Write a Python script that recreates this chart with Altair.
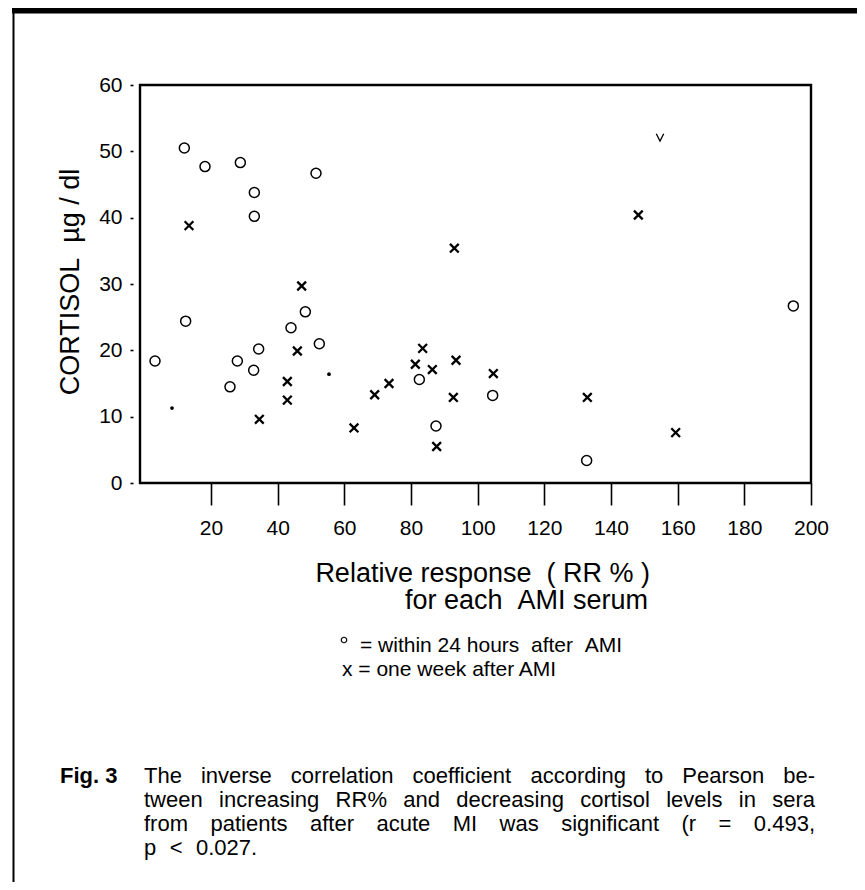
import altair as alt
import pandas as pd

# ---------------- data ----------------
circle_x = [3.2, 12.0, 12.4, 18.2, 28.8, 33.0, 33.0, 51.5, 25.7, 27.9,
            32.8, 34.3, 44.0, 48.3, 52.5, 82.5, 87.5, 104.5, 132.7, 194.7]
circle_y = [18.4, 50.5, 24.4, 47.7, 48.3, 43.8, 40.2, 46.7, 14.5, 18.4,
            17.0, 20.2, 23.4, 25.8, 21.0, 15.6, 8.6, 13.2, 3.4, 26.7]
cross_x = [13.4, 47.2, 45.9, 42.9, 42.9, 34.5, 62.9, 69.1, 73.4, 81.3,
           83.5, 86.4, 87.7, 93.0, 93.5, 92.7, 104.7, 132.9, 148.2, 159.4]
cross_y = [38.8, 29.7, 19.9, 15.3, 12.5, 9.6, 8.3, 13.3, 15.0, 17.9,
           20.3, 17.1, 5.5, 35.4, 18.5, 12.9, 16.5, 12.9, 40.4, 7.6]
dot_x = [8.3, 55.4]
dot_y = [11.3, 16.4]
vee_x = [154.7]
vee_y = [52.1]

x_ticks = [20, 40, 60, 80, 100, 120, 140, 160, 180, 200]
y_ticks = [0, 10, 20, 30, 40, 50, 60]

NB = "\u00a0"
y_title = "CORTISOL" + NB + NB + "\u00b5g / dl"
x_title_lines = ["Relative response" + NB + NB + "( RR % )",
                 "for each" + NB + NB + "AMI serum"]
legend_lines = ["= within 24 hours" + NB + NB + "after" + NB + NB + "AMI",
                "x = one week after AMI"]
fig_label = "Fig. 3"
caption_lines = [
    "The inverse correlation coefficient according to Pearson be-",
    "tween increasing RR% and decreasing cortisol levels in sera",
    "from patients after acute MI was significant (r = 0.493,",
    "p < 0.027.",
]

# ---------------- layout ----------------
W, H = 671, 398
FONT = "Liberation Sans"

xs = alt.Scale(domain=[-1.3, 200], nice=False, zero=False)
ys = alt.Scale(domain=[0, 60], nice=False, zero=False)

x_axis = alt.Axis(values=x_ticks, domain=False, grid=False, tickSize=22,
                  tickWidth=1.6, tickColor="black", labelFont=FONT,
                  labelFontSize=21, labelColor="black", labelPadding=12,
                  labelFlush=False, labelOverlap=False, title=None)
y_axis = alt.Axis(values=y_ticks, domain=False, grid=False, tickSize=3,
                  tickWidth=1.6, tickColor="black", offset=7, labelFont=FONT,
                  labelFontSize=21, labelColor="black", labelPadding=8,
                  labelFlush=False, labelOverlap=False, title=None)


def xy(xv, yv):
    return pd.DataFrame({"x": xv, "y": yv})


enc = dict(x=alt.X("x:Q", scale=xs, axis=x_axis),
           y=alt.Y("y:Q", scale=ys, axis=y_axis))

circles = alt.Chart(xy(circle_x, circle_y)).mark_point(
    shape="circle", filled=False, size=100, stroke="black",
    strokeWidth=1.5, opacity=1).encode(**enc)
crosses = alt.Chart(xy(cross_x, cross_y)).mark_point(
    shape="M-1,-1L1,1M-1,1L1,-1", filled=False, size=76, stroke="black",
    strokeWidth=2.3, opacity=1).encode(**enc)
dots = alt.Chart(xy(dot_x, dot_y)).mark_point(
    shape="circle", filled=True, size=14, color="black", opacity=1).encode(**enc)
vees = alt.Chart(xy(vee_x, vee_y)).mark_point(
    shape="M-1,-1L0,1L1,-1", filled=False, size=55, stroke="black",
    strokeWidth=1.3, opacity=1).encode(**enc)

data_layer = alt.layer(circles, crosses, dots, vees)

# plot frame
frame = alt.Chart(pd.DataFrame({"k": [0]})).mark_rect(
    fillOpacity=0, stroke="black", strokeWidth=2.4).encode(
    x=alt.value(0), x2=alt.value(W), y=alt.value(0), y2=alt.value(H))

# ---------------- texts (pixel positions) ----------------
AW = {' ': 278, '!': 278, '%': 889, '(': 333, ')': 333, ',': 278, '-': 333,
      '.': 278, '/': 278, '<': 584, '=': 584, '>': 584,
      'A': 667, 'B': 667, 'C': 722, 'D': 722, 'E': 667, 'F': 611, 'G': 778,
      'H': 722, 'I': 278, 'J': 500, 'K': 667, 'L': 556, 'M': 833, 'N': 722,
      'O': 778, 'P': 667, 'Q': 778, 'R': 722, 'S': 667, 'T': 611, 'U': 722,
      'V': 667, 'W': 944, 'X': 667, 'Y': 667, 'Z': 611,
      'a': 556, 'b': 556, 'c': 500, 'd': 556, 'e': 556, 'f': 278, 'g': 556,
      'h': 556, 'i': 222, 'j': 222, 'k': 500, 'l': 222, 'm': 833, 'n': 556,
      'o': 556, 'p': 556, 'q': 556, 'r': 333, 's': 500, 't': 278, 'u': 556,
      'v': 500, 'w': 722, 'x': 500, 'y': 500, 'z': 500}


def tw(s, fs):
    return sum(AW.get(ch, 556) for ch in s) * fs / 1000.0


CAP_FS = 22
cap_left, cap_right = 4, 675
cap_y0, cap_dy = 698, 24
rows = []
for i, line in enumerate(caption_lines):
    words = line.split(" ")
    widths = [tw(w, CAP_FS) for w in words]
    if i < len(caption_lines) - 1:
        gap = (cap_right - cap_left - sum(widths)) / (len(words) - 1)
    else:
        gap = tw(" ", CAP_FS) * 2.2
    xpos = cap_left
    for w, wd in zip(words, widths):
        rows.append({"t": w, "px": xpos, "py": cap_y0 + i * cap_dy})
        xpos += wd + gap
cap_df = pd.DataFrame(rows)

caption = alt.Chart(cap_df).mark_text(
    align="left", baseline="alphabetic", font=FONT, fontSize=CAP_FS,
    color="black").encode(
    x=alt.X("px:Q", scale=None, axis=None),
    y=alt.Y("py:Q", scale=None, axis=None),
    text="t:N")

fig_text = alt.Chart(pd.DataFrame({"t": [fig_label]})).mark_text(
    align="left", baseline="alphabetic", font=FONT, fontSize=CAP_FS,
    fontWeight="bold", color="black").encode(
    x=alt.value(-80), y=alt.value(cap_y0), text="t:N")

xt_df = pd.DataFrame({"t": x_title_lines, "py": [497, 524], "px": [510, 508]})
x_title = alt.Chart(xt_df).mark_text(
    align="right", baseline="alphabetic", font=FONT, fontSize=27,
    color="black").encode(
    x=alt.X("px:Q", scale=None, axis=None),
    y=alt.Y("py:Q", scale=None, axis=None),
    text="t:N")

lg_df = pd.DataFrame({"t": legend_lines, "px": [220, 202], "py": [567, 591]})
legend_text = alt.Chart(lg_df).mark_text(
    align="left", baseline="alphabetic", font=FONT, fontSize=21,
    color="black").encode(
    x=alt.X("px:Q", scale=None, axis=None),
    y=alt.Y("py:Q", scale=None, axis=None),
    text="t:N")
legend_glyph = alt.Chart(pd.DataFrame({"k": [0]})).mark_point(
    shape="circle", filled=False, size=30, stroke="black", strokeWidth=1.2,
    opacity=1).encode(x=alt.value(204), y=alt.value(555))

yt = alt.Chart(pd.DataFrame({"t": [y_title]})).mark_text(
    align="center", baseline="alphabetic", angle=270, font=FONT,
    fontSize=27, color="black").encode(
    x=alt.value(-61), y=alt.value(H / 2 - 2), text="t:N")

# page frame of the scanned figure
top_line = alt.Chart(pd.DataFrame({"k": [0]})).mark_rule(
    color="black", strokeWidth=7).encode(
    x=alt.value(-128), x2=alt.value(720), y=alt.value(-75))
left_line = alt.Chart(pd.DataFrame({"k": [0]})).mark_rule(
    color="black", strokeWidth=2).encode(
    x=alt.value(-126.5), y=alt.value(-78), y2=alt.value(800))

chart = alt.layer(
    data_layer, frame, x_title, legend_text, legend_glyph, yt, fig_text,
    caption, top_line, left_line
).resolve_scale(x="independent", y="independent").properties(
    width=W, height=H,
    autosize=alt.AutoSizeParams(type="none"),
    padding={"left": 132, "top": 77, "right": 46, "bottom": 399},
).configure_view(strokeWidth=0).configure(background="white")

chart.save("out.html", embed_options={"renderer": "svg", "actions": False})
